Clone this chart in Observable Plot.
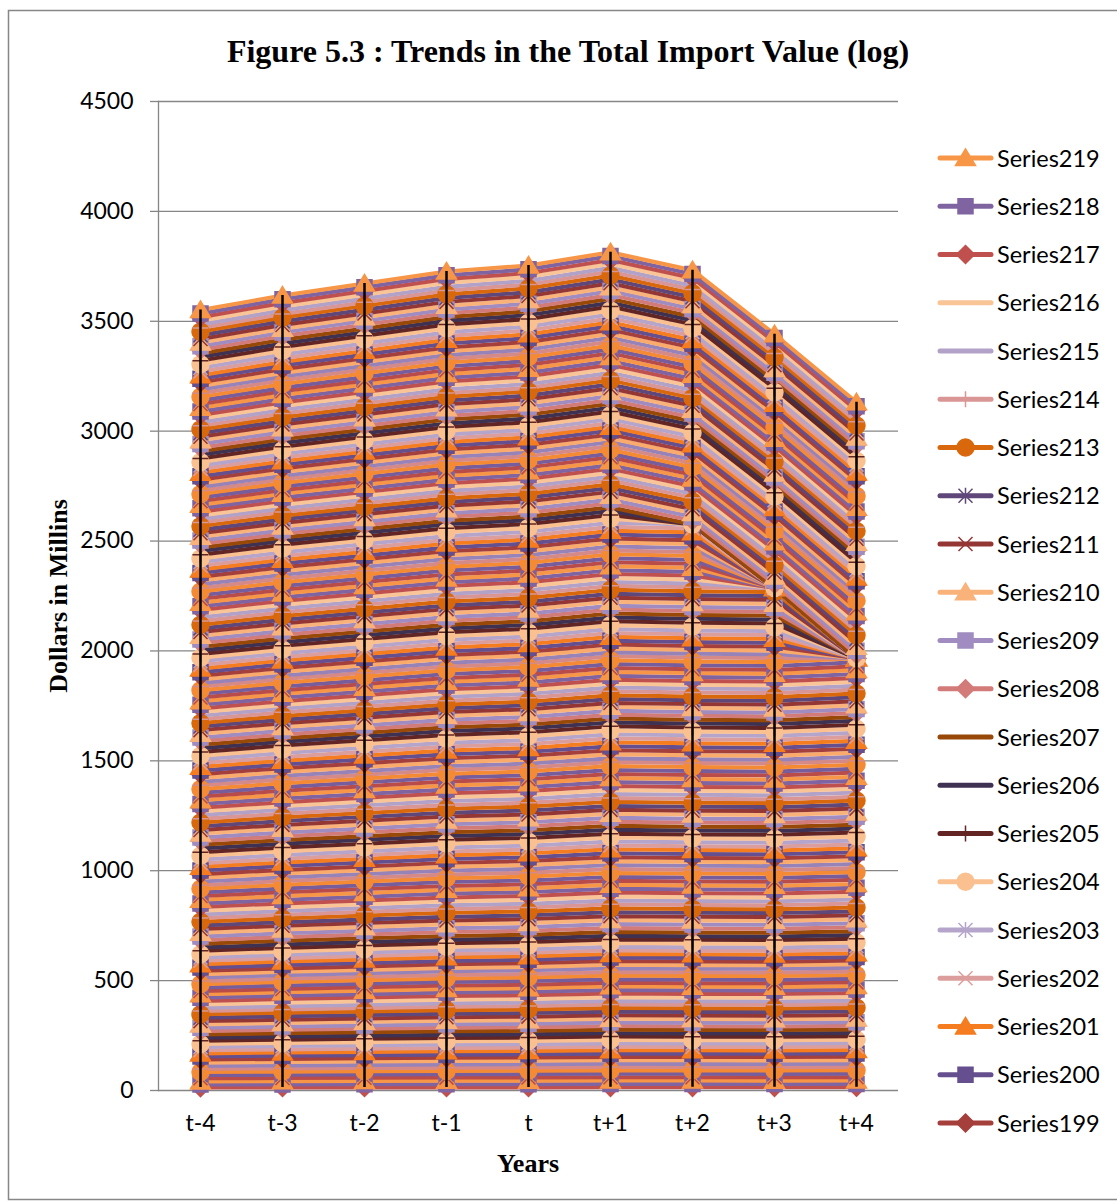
<!DOCTYPE html>
<html><head><meta charset="utf-8">
<script src="https://cdn.jsdelivr.net/npm/d3@7"></script>
<script src="https://cdn.jsdelivr.net/npm/@observablehq/plot@0.6"></script>
<style>
html,body{margin:0;padding:0;background:#fff;}
#wrap{position:relative;width:1117px;height:1202px;overflow:hidden;}
#wrap svg{position:absolute;left:0;top:0;}
</style></head>
<body><div id="wrap"></div>
<script>
const titleText = "Figure 5.3 : Trends in the Total Import Value (log)";
const yTitle = "Dollars in Millins";
const xTitle = "Years";
const years = ["t-4","t-3","t-2","t-1","t","t+1","t+2","t+3","t+4"];
const yTicks = [0,500,1000,1500,2000,2500,3000,3500,4000,4500];

// Series1 .. Series17
const block1 = [
[13.2,13.5,13.8,14.0,14.1,14.4,14.4,14.3,14.5],
[13.8,14.0,14.3,14.6,14.8,15.1,14.9,15.0,15.0],
[14.5,14.9,15.1,15.2,15.4,15.6,15.7,15.6,15.8],
[13.9,14.2,14.4,14.8,14.8,15.1,15.0,15.0,15.2],
[14.6,14.9,15.2,15.4,15.5,15.8,15.8,15.7,15.9],
[14.0,14.2,14.5,14.8,15.0,15.3,15.1,15.2,15.2],
[14.3,14.7,14.9,15.0,15.2,15.4,15.5,15.4,15.6],
[13.6,13.9,14.1,14.5,14.5,14.8,14.7,14.7,14.9],
[14.8,15.1,15.4,15.6,15.7,16.0,16.0,15.9,16.1],
[14.1,14.3,14.6,14.9,15.1,15.4,15.2,15.3,15.3],
[13.7,14.1,14.3,14.4,14.6,14.8,14.9,14.8,15.0],
[14.4,14.7,14.9,15.3,15.3,15.6,15.5,15.5,15.7],
[14.2,14.5,14.8,15.0,15.1,15.4,15.4,15.3,15.5],
[14.9,15.1,15.4,15.7,15.9,16.2,16.0,16.1,16.1],
[13.8,14.2,14.4,14.5,14.7,14.9,15.0,14.9,15.1],
[14.3,14.6,14.8,15.2,15.2,15.5,15.4,15.4,15.6],
[14.0,14.3,14.6,14.8,14.9,15.2,15.2,15.1,15.3]
];
// Series18 .. Series44
const block2 = [
[14.8,15.0,15.3,15.6,15.8,16.1,15.9,16.0,16.0],
[15.3,15.7,15.9,16.0,16.2,16.4,16.5,16.4,16.6],
[15.0,15.3,15.5,15.9,15.9,16.2,16.1,16.1,16.3],
[15.6,15.9,16.2,16.4,16.5,16.8,16.8,16.7,16.9],
[14.9,15.1,15.4,15.7,15.9,16.2,16.0,16.1,16.1],
[15.2,15.6,15.8,15.9,16.1,16.3,16.4,16.3,16.5],
[15.5,15.8,16.0,16.4,16.4,16.7,16.6,16.6,16.8],
[15.1,15.4,15.7,15.9,16.0,16.3,16.3,16.2,16.4],
[14.7,14.9,15.2,15.5,15.7,16.0,15.8,15.9,15.9],
[15.4,15.8,16.0,16.1,16.3,16.5,16.6,16.5,16.7],
[15.8,16.1,16.3,16.7,16.7,17.0,16.9,16.9,17.1],
[15.0,15.3,15.6,15.8,15.9,16.2,16.2,16.1,16.3],
[15.3,15.5,15.8,16.1,16.3,16.6,16.4,16.5,16.5],
[14.9,15.3,15.5,15.6,15.8,16.0,16.1,16.0,16.2],
[15.6,15.9,16.1,16.5,16.5,16.8,16.7,16.7,16.9],
[15.2,15.5,15.8,16.0,16.1,16.4,16.4,16.3,16.5],
[15.1,15.3,15.6,15.9,16.1,16.4,16.2,16.3,16.3],
[15.7,16.1,16.3,16.4,16.6,16.8,16.9,16.8,17.0],
[14.8,15.1,15.3,15.7,15.7,16.0,15.9,15.9,16.1],
[15.3,15.6,15.9,16.1,16.2,16.5,16.5,16.4,16.6],
[15.0,15.2,15.5,15.8,16.0,16.3,16.1,16.2,16.2],
[15.4,15.8,16.0,16.1,16.3,16.5,16.6,16.5,16.7],
[15.5,15.8,16.0,16.4,16.4,16.7,16.6,16.6,16.8],
[14.9,15.2,15.5,15.7,15.8,16.1,16.1,16.0,16.2],
[15.2,15.4,15.7,16.0,16.2,16.5,16.3,16.4,16.4],
[15.6,16.0,16.2,16.3,16.5,16.7,16.8,16.7,16.9],
[15.3,15.6,15.8,16.2,16.2,16.5,16.4,16.4,16.6]
];
// Series45 .. Series71
const block3 = [
[16.3,16.6,16.9,17.1,17.2,17.5,17.5,17.4,17.6],
[16.9,17.1,17.4,17.7,17.9,18.2,18.0,18.1,18.1],
[16.5,16.9,17.1,17.2,17.4,17.6,17.7,17.6,17.8],
[17.1,17.4,17.6,18.0,18.0,18.3,18.2,18.2,18.4],
[16.6,16.9,17.2,17.4,17.5,17.8,17.8,17.7,17.9],
[16.2,16.4,16.7,17.0,17.2,17.5,17.3,17.4,17.4],
[16.8,17.2,17.4,17.5,17.7,17.9,18.0,17.9,18.1],
[17.0,17.3,17.5,17.9,17.9,18.2,18.1,18.1,18.3],
[16.4,16.7,17.0,17.2,17.3,17.6,17.6,17.5,17.7],
[16.7,16.9,17.2,17.5,17.7,18.0,17.8,17.9,17.9],
[16.9,17.3,17.5,17.6,17.8,18.0,18.1,18.0,18.2],
[16.5,16.8,17.0,17.4,17.4,17.7,17.6,17.6,17.8],
[16.3,16.6,16.9,17.1,17.2,17.5,17.5,17.4,17.6],
[17.2,17.4,17.7,18.0,18.2,18.5,18.3,18.4,18.4],
[16.6,17.0,17.2,17.3,17.5,17.7,17.8,17.7,17.9],
[16.8,17.1,17.3,17.7,17.7,18.0,17.9,17.9,18.1],
[16.4,16.7,17.0,17.2,17.3,17.6,17.6,17.5,17.7],
[16.9,17.1,17.4,17.7,17.9,18.2,18.0,18.1,18.1],
[16.7,17.1,17.3,17.4,17.6,17.8,17.9,17.8,18.0],
[16.5,16.8,17.0,17.4,17.4,17.7,17.6,17.6,17.8],
[17.0,17.3,17.6,17.8,17.9,18.2,18.2,18.1,18.3],
[16.6,16.8,17.1,17.4,17.6,17.9,17.7,17.8,17.8],
[16.3,16.7,16.9,17.0,17.2,17.4,17.5,17.4,17.6],
[16.8,17.1,17.3,17.7,17.7,18.0,17.9,17.9,18.1],
[16.9,17.2,17.5,17.7,17.8,18.1,18.1,18.0,18.2],
[16.5,16.7,17.0,17.3,17.5,17.8,17.6,17.7,17.7],
[16.7,17.1,17.3,17.4,17.6,17.8,17.9,17.8,18.0]
];
// Series72 .. Series98
const block4 = [
[16.5,16.8,17.0,17.4,17.4,17.7,17.6,17.6,17.8],
[17.1,17.4,17.7,17.9,18.0,18.3,18.3,18.2,18.4],
[16.8,17.0,17.3,17.6,17.8,18.1,17.9,18.0,18.0],
[17.3,17.7,17.9,18.0,18.2,18.4,18.5,18.4,18.6],
[16.7,17.0,17.2,17.6,17.6,17.9,17.8,17.8,18.0],
[16.9,17.2,17.5,17.7,17.8,18.1,18.1,18.0,18.2],
[17.0,17.2,17.5,17.8,18.0,18.3,18.1,18.2,18.2],
[16.6,17.0,17.2,17.3,17.5,17.7,17.8,17.7,17.9],
[17.2,17.5,17.7,18.1,18.1,18.4,18.3,18.3,18.5],
[16.8,17.1,17.4,17.6,17.7,18.0,18.0,17.9,18.1],
[16.5,16.7,17.0,17.3,17.5,17.8,17.6,17.7,17.7],
[17.1,17.5,17.7,17.8,18.0,18.2,18.3,18.2,18.4],
[16.9,17.2,17.4,17.8,17.8,18.1,18.0,18.0,18.2],
[17.4,17.7,18.0,18.2,18.3,18.6,18.6,18.5,18.7],
[16.7,16.9,17.2,17.5,17.7,18.0,17.8,17.9,17.9],
[16.8,17.2,17.4,17.5,17.7,17.9,18.0,17.9,18.1],
[17.0,17.3,17.5,17.9,17.9,18.2,18.1,18.1,18.3],
[16.6,16.9,17.2,17.4,17.5,17.8,17.8,17.7,17.9],
[16.9,17.1,17.4,17.7,17.9,18.2,18.0,18.1,18.1],
[17.2,17.6,17.8,17.9,18.1,18.3,18.4,18.3,18.5],
[16.8,17.1,17.3,17.7,17.7,18.0,17.9,17.9,18.1],
[16.7,17.0,17.3,17.5,17.6,17.9,17.9,17.8,18.0],
[17.0,17.2,17.5,17.8,18.0,18.3,18.1,18.2,18.2],
[16.9,17.3,17.5,17.6,17.8,18.0,18.1,18.0,18.2],
[16.6,16.9,17.1,17.5,17.5,17.8,17.7,17.7,17.9],
[17.1,17.4,17.7,17.9,18.0,18.3,18.3,18.2,18.4],
[16.8,17.0,17.3,17.6,17.8,18.1,17.9,18.0,18.0]
];
// Series99 .. Series125 (Series115+ have no value at t+4)
const block5 = [
[16.2,16.6,16.8,16.9,17.1,17.3,17.4,17.3,17.5],
[16.7,17.0,17.2,17.6,17.6,17.9,17.8,17.8,18.0],
[16.4,16.7,17.0,17.2,17.3,17.6,17.6,17.5,17.7],
[16.9,17.1,17.4,17.7,17.9,18.2,18.0,18.1,18.1],
[16.3,16.7,16.9,17.0,17.2,17.4,17.5,17.4,17.6],
[16.5,16.8,17.0,17.4,17.4,17.7,17.6,17.6,17.8],
[16.1,16.4,16.7,16.9,17.0,17.3,17.3,17.2,17.4],
[16.8,17.0,17.3,17.6,17.8,18.1,17.9,18.0,18.0],
[16.6,17.0,17.2,17.3,17.5,17.7,17.8,17.7,17.9],
[16.4,16.7,16.9,17.3,17.3,17.6,17.5,17.5,17.7],
[16.2,16.5,16.8,17.0,17.1,17.4,17.4,17.3,17.5],
[16.7,16.9,17.2,17.5,17.7,18.0,17.8,17.9,17.9],
[16.5,16.9,17.1,17.2,17.4,17.6,17.7,17.6,17.8],
[16.3,16.6,16.8,17.2,17.2,17.5,17.4,17.4,17.6],
[16.9,17.2,17.5,17.7,17.8,18.1,18.1,18.0,18.2],
[16.4,16.6,16.9,17.2,17.4,17.7,17.5,17.6,17.6],
[16.6,17.0,17.2,17.3,17.5,17.7,17.8,17.7,0],
[16.2,16.5,16.7,17.1,17.1,17.4,17.3,17.3,0],
[16.5,16.8,17.1,17.3,17.4,17.7,17.7,17.6,0],
[16.8,17.0,17.3,17.6,17.8,18.1,17.9,18.0,0],
[16.3,16.7,16.9,17.0,17.2,17.4,17.5,17.4,0],
[16.6,16.9,17.1,17.5,17.5,17.8,17.7,17.7,0],
[16.4,16.7,17.0,17.2,17.3,17.6,17.6,17.5,0],
[16.7,16.9,17.2,17.5,17.7,18.0,17.8,17.9,0],
[16.2,16.6,16.8,16.9,17.1,17.3,17.4,17.3,0],
[16.5,16.8,17.0,17.4,17.4,17.7,17.6,17.6,0],
[16.6,16.9,17.2,17.4,17.5,17.8,17.8,17.7,0]
];
// Series126 .. Series152
const block6 = [
[16.4,16.6,16.9,17.2,17.4,17.7,17.5,17.6,0],
[17.0,17.4,17.6,17.7,17.9,18.1,18.2,18.1,0],
[16.6,16.9,17.1,17.5,17.5,17.8,17.7,17.7,0],
[17.1,17.4,17.7,17.9,18.0,18.3,18.3,18.2,0],
[16.7,16.9,17.2,17.5,17.7,18.0,17.8,17.9,0],
[16.3,16.7,16.9,17.0,17.2,17.4,17.5,17.4,0],
[16.9,17.2,17.4,17.8,17.8,18.1,18.0,18.0,0],
[17.0,17.3,17.6,17.8,17.9,18.2,18.2,18.1,0],
[16.5,16.7,17.0,17.3,17.5,17.8,17.6,0,0],
[16.8,17.2,17.4,17.5,17.7,17.9,18.0,0,0],
[16.9,17.2,17.4,17.8,17.8,18.1,18.0,0,0],
[16.6,16.9,17.2,17.4,17.5,17.8,17.8,0,0],
[16.4,16.6,16.9,17.2,17.4,17.7,17.5,0,0],
[17.2,17.6,17.8,17.9,18.1,18.3,18.4,0,0],
[16.7,17.0,17.2,17.6,17.6,17.9,17.8,0,0],
[16.8,17.1,17.4,17.6,17.7,18.0,18.0,0,0],
[16.5,16.7,17.0,17.3,17.5,17.8,17.6,0,0],
[17.0,17.4,17.6,17.7,17.9,18.1,18.2,0,0],
[16.7,17.0,17.2,17.6,17.6,17.9,17.8,0,0],
[16.6,16.9,17.2,17.4,17.5,17.8,17.8,0,0],
[17.0,17.2,17.5,17.8,18.0,18.3,18.1,0,0],
[16.7,17.1,17.3,17.4,17.6,17.8,17.9,0,0],
[16.4,16.7,16.9,17.3,17.3,17.6,17.5,0,0],
[16.9,17.2,17.5,17.7,17.8,18.1,18.1,0,0],
[16.9,17.1,17.4,17.7,17.9,18.2,0,0,0],
[16.6,17.0,17.2,17.3,17.5,17.7,0,0,0],
[16.8,17.1,17.3,17.7,17.7,18.0,0,0,0]
];
// Series153 .. Series179
const block7 = [
[16.0,16.3,16.6,16.8,16.9,17.2,0,0,0],
[16.4,16.6,16.9,17.2,17.4,17.7,17.5,17.6,17.6],
[16.1,16.5,16.7,16.8,17.0,17.2,17.3,17.2,17.4],
[16.5,16.8,17.0,17.4,17.4,17.7,17.6,17.6,17.8],
[15.9,16.2,16.5,16.7,16.8,17.1,17.1,17.0,17.2],
[16.3,16.5,16.8,17.1,17.3,17.6,17.4,17.5,17.5],
[16.2,16.6,16.8,16.9,17.1,17.3,17.4,17.3,17.5],
[16.6,16.9,17.1,17.5,17.5,17.8,17.7,17.7,17.9],
[15.8,16.1,16.4,16.6,16.7,17.0,17.0,16.9,17.1],
[16.2,16.4,16.7,17.0,17.2,17.5,17.3,17.4,17.4],
[16.4,16.8,17.0,17.1,17.3,17.5,17.6,17.5,17.7],
[16.0,16.3,16.5,16.9,16.9,17.2,17.1,17.1,17.3],
[16.3,16.6,16.9,17.1,17.2,17.5,17.5,17.4,17.6],
[16.5,16.7,17.0,17.3,17.5,17.8,17.6,17.7,17.7],
[16.1,16.5,16.7,16.8,17.0,17.2,17.3,17.2,17.4],
[15.9,16.2,16.4,16.8,16.8,17.1,17.0,17.0,17.2],
[16.4,16.7,17.0,17.2,17.3,17.6,17.6,17.5,17.7],
[16.2,16.4,16.7,17.0,17.2,17.5,17.3,17.4,17.4],
[16.0,16.4,16.6,16.7,16.9,17.1,17.2,17.1,17.3],
[16.6,16.9,17.1,17.5,17.5,17.8,17.7,17.7,17.9],
[16.3,16.6,16.9,17.1,17.2,17.5,17.5,17.4,17.6],
[16.1,16.3,16.6,16.9,17.1,17.4,17.2,17.3,17.3],
[16.2,16.6,16.8,16.9,17.1,17.3,17.4,17.3,17.5],
[16.4,16.7,16.9,17.3,17.3,17.6,17.5,17.5,17.7],
[15.9,16.2,16.5,16.7,16.8,17.1,17.1,17.0,17.2],
[16.3,16.5,16.8,17.1,17.3,17.6,17.4,17.5,17.5],
[16.2,16.6,16.8,16.9,17.1,17.3,17.4,17.3,17.5]
];
// Series180 .. Series206
const block8 = [
[16.5,16.8,17.0,17.4,17.4,17.7,17.6,17.6,17.8],
[16.2,16.5,16.8,17.0,17.1,17.4,17.4,17.3,17.5],
[16.8,17.0,17.3,17.6,17.8,18.1,17.9,18.0,18.0],
[16.4,16.8,17.0,17.1,17.3,17.5,17.6,17.5,17.7],
[16.6,16.9,17.1,17.5,17.5,17.8,17.7,17.7,17.9],
[16.3,16.6,16.9,17.1,17.2,17.5,17.5,17.4,17.6],
[16.9,17.1,17.4,17.7,17.9,18.2,18.0,18.1,18.1],
[16.1,16.5,16.7,16.8,17.0,17.2,17.3,17.2,17.4],
[16.5,16.8,17.0,17.4,17.4,17.7,17.6,17.6,17.8],
[16.7,17.0,17.3,17.5,17.6,17.9,17.9,17.8,18.0],
[16.4,16.6,16.9,17.2,17.4,17.7,17.5,17.6,17.6],
[16.2,16.6,16.8,16.9,17.1,17.3,17.4,17.3,17.5],
[16.6,16.9,17.1,17.5,17.5,17.8,17.7,17.7,17.9],
[16.8,17.1,17.4,17.6,17.7,18.0,18.0,17.9,18.1],
[16.3,16.5,16.8,17.1,17.3,17.6,17.4,17.5,17.5],
[16.5,16.9,17.1,17.2,17.4,17.6,17.7,17.6,17.8],
[16.4,16.7,16.9,17.3,17.3,17.6,17.5,17.5,17.7],
[16.7,17.0,17.3,17.5,17.6,17.9,17.9,17.8,18.0],
[16.2,16.4,16.7,17.0,17.2,17.5,17.3,17.4,17.4],
[16.6,17.0,17.2,17.3,17.5,17.7,17.8,17.7,17.9],
[16.5,16.8,17.0,17.4,17.4,17.7,17.6,17.6,17.8],
[16.3,16.6,16.9,17.1,17.2,17.5,17.5,17.4,17.6],
[16.9,17.1,17.4,17.7,17.9,18.2,18.0,18.1,18.1],
[16.4,16.8,17.0,17.1,17.3,17.5,17.6,17.5,17.7],
[16.6,16.9,17.1,17.5,17.5,17.8,17.7,17.7,17.9],
[16.2,16.5,16.8,17.0,17.1,17.4,17.4,17.3,17.5],
[16.5,16.7,17.0,17.3,17.5,17.8,17.6,17.7,17.7]
];
// Series207 .. Series219
const block9 = [
[16.3,16.7,16.9,17.0,17.2,17.4,17.5,17.4,17.6],
[16.7,17.0,17.2,17.6,17.6,17.9,17.8,17.8,18.0],
[16.4,16.7,17.0,17.2,17.3,17.6,17.6,17.5,17.7],
[16.2,16.4,16.7,17.0,17.2,17.5,17.3,17.4,17.4],
[16.6,17.0,17.2,17.3,17.5,17.7,17.8,17.7,17.9],
[16.5,16.8,17.0,17.4,17.4,17.7,17.6,17.6,17.8],
[16.8,17.1,17.4,17.6,17.7,18.0,18.0,17.9,18.1],
[16.3,16.5,16.8,17.1,17.3,17.6,17.4,17.5,17.5],
[16.4,16.8,17.0,17.1,17.3,17.5,17.6,17.5,17.7],
[16.6,16.9,17.1,17.5,17.5,17.8,17.7,17.7,17.9],
[16.2,16.5,16.8,17.0,17.1,17.4,17.4,17.3,17.5],
[16.5,16.7,17.0,17.3,17.5,17.8,17.6,17.7,17.7],
[16.5,16.9,17.1,17.2,17.4,17.6,17.7,17.6,17.8]
];
const seriesValues = [...block1,...block2,...block3,...block4,...block5,...block6,...block7,...block8,...block9];

// colour of series n is palette[n % 27]
const palette = ["#F9C496","#C0504D","#8064A2","#F79646","#B94C49","#775D9C","#F58A35","#D58A88","#9883B8",
  "#FAAB6B","#A53F3C","#664F8E","#F57C1F","#DC9E9C","#B5A5CB","#FAC08F","#632523","#3F3151",
  "#984807","#D27B78","#A08CC0","#F9B27A","#943634","#5F4879","#D9680C","#D99694","#B3A2C7"];
// marker of series n is markerCycle[(n-1) % 9]
const markerCycle = ["diamond","square","triangle","x","star","circle","plus","none","none"];
const legendSeries = [219,218,217,216,215,214,213,212,211,210,209,208,207,206,205,204,203,202,201,200,199];

const symbols = {
  diamond: {draw(c){c.moveTo(0,-9);c.lineTo(9,0);c.lineTo(0,9);c.lineTo(-9,0);c.closePath();}},
  square: {draw(c){c.rect(-7.5,-7.5,15,15);}},
  triangle: {draw(c){c.moveTo(0,-9);c.lineTo(10,7.5);c.lineTo(-10,7.5);c.closePath();}},
  x: {draw(c){c.moveTo(-7,-7);c.lineTo(7,7);c.moveTo(7,-7);c.lineTo(-7,7);}},
  star: {draw(c){c.moveTo(-7,-7);c.lineTo(7,7);c.moveTo(7,-7);c.lineTo(-7,7);c.moveTo(0,-8);c.lineTo(0,8);}},
  circle: {draw(c){c.moveTo(8.5,0);c.arc(0,0,8.5,0,2*Math.PI);c.closePath();}},
  plus: {draw(c){c.moveTo(-8,0);c.lineTo(8,0);c.moveTo(0,-8);c.lineTo(0,8);}},
  none: {draw(c){}}
};
const markerNames = Object.keys(symbols);

const rows = [];
seriesValues.forEach((vals, i) => {
  const n = i + 1;
  vals.forEach((v, j) => rows.push({
    series: "Series" + n, year: years[j], value: v,
    color: palette[n % 27], marker: markerCycle[(n - 1) % 9]
  }));
});

const chart = Plot.plot({
  width: 930, height: 1202,
  marginLeft: 158, marginRight: 32, marginTop: 101, marginBottom: 112,
  x: {type: "point", domain: years, padding: 0.5},
  y: {domain: [0, 4500]},
  color: {type: "identity"},
  symbol: {domain: markerNames, range: markerNames.map(k => symbols[k])},
  style: {fontFamily: "Lato", fontSize: "23px", color: "#000", background: "transparent", overflow: "visible"},
  marks: [
    Plot.gridY(yTicks, {stroke: "#868686", strokeOpacity: 1, strokeWidth: 1.3}),
    Plot.frame({anchor: "left", stroke: "#868686", strokeWidth: 1.3}),
    Plot.axisY(yTicks, {tickSize: 8, tickPadding: 17, stroke: "#868686", strokeOpacity: 1, strokeWidth: 1.3, label: null, tickFormat: d => String(d)}),
    Plot.axisX({tickSize: 0, tickPadding: 24, label: null}),
    Plot.line(rows, Plot.stackY2({x: "year", y: "value", z: "series", stroke: "color", strokeWidth: 4, strokeLinejoin: "round"})),
    Plot.dot(rows, Plot.stackY2({x: "year", y: "value", z: "series", fill: "color", stroke: "color", strokeWidth: 1.5, symbol: "marker"})),
    Plot.ruleX(rows, Plot.groupX({y1: "first", y2: "sum"}, {x: "year", y1: "value", y2: "value", stroke: "#000", strokeWidth: 2.5}))
  ]
});
const wrap = document.getElementById("wrap");
wrap.appendChild(chart);

// overlay: border, titles, legend
const ov = d3.select(wrap).append("svg").attr("width", 1117).attr("height", 1202);
ov.append("rect").attr("x", 8.5).attr("y", 10.5).attr("width", 1120).attr("height", 1189)
  .attr("fill", "none").attr("stroke", "#878787").attr("stroke-width", 1.5);
ov.append("text").attr("x", 568).attr("y", 62).attr("text-anchor", "middle")
  .style("font", "bold 32px 'Liberation Serif'").text(titleText);
ov.append("text").attr("transform", "translate(67,596) rotate(-90)").attr("text-anchor", "middle")
  .style("font", "bold 26px 'Liberation Serif'").text(yTitle);
ov.append("text").attr("x", 528).attr("y", 1172).attr("text-anchor", "middle")
  .style("font", "bold 26px 'Liberation Serif'").text(xTitle);

legendSeries.forEach((n, k) => {
  const y = 158 + k * 48.25;
  const col = palette[n % 27];
  const g = ov.append("g");
  g.append("line").attr("x1", 940).attr("x2", 991).attr("y1", y).attr("y2", y)
    .attr("stroke", col).attr("stroke-width", 5).attr("stroke-linecap", "round");
  const p = d3.path();
  symbols[markerCycle[(n - 1) % 9]].draw(p, 0);
  g.append("path").attr("d", p.toString()).attr("transform", `translate(965.5,${y})`)
    .attr("fill", col).attr("stroke", col).attr("stroke-width", 1.5);
  g.append("text").attr("x", 997).attr("y", y + 8.5)
    .style("font", "23.5px Lato").text("Series" + n);
});
</script></body></html>
